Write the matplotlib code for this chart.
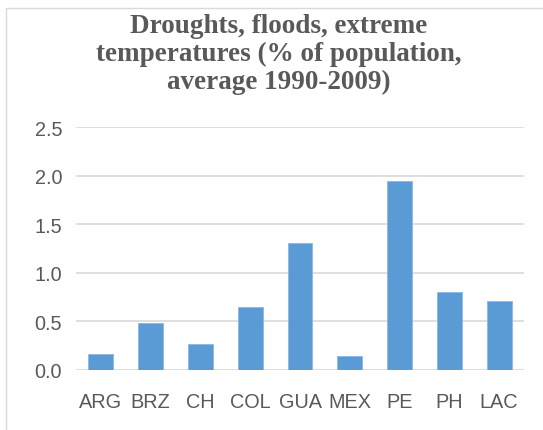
import matplotlib
matplotlib.use("Agg")
import matplotlib.pyplot as plt
from matplotlib.patches import Rectangle

# Data
countries = ["ARG", "BRZ", "CH", "COL", "GUA", "MEX", "PE", "PH", "LAC"]
values = [0.16, 0.48, 0.26, 0.65, 1.31, 0.14, 1.95, 0.80, 0.71]
yticks = [0.0, 0.5, 1.0, 1.5, 2.0, 2.5]
title = "Droughts, floods, extreme\ntemperatures (% of population,\naverage 1990-2009)"

bar_color = "#5B9BD5"
text_color = "#595959"
grid_color = "#D9D9D9"

W, H = 543, 431
fig = plt.figure(figsize=(W / 100, H / 100), dpi=100)

# light chart border (right/bottom edges fall outside the image)
fig.patches.append(
    Rectangle((6 / W, -0.1), 1.2, 1 - 9 / H + 0.1, transform=fig.transFigure,
              fill=False, edgecolor="#D9D9D9", linewidth=1)
)

ax = fig.add_axes([76 / W, 1 - 370.7 / H, 448 / W, (370.7 - 128.3) / H])
x = range(len(countries))
ax.bar(x, values, width=0.5, color=bar_color, edgecolor="#8CB8E2", linewidth=0.6, zorder=3)

ax.set_xlim(-0.5, len(countries) - 0.5)
ax.set_ylim(0, 2.5)
ax.set_yticks(yticks)
ax.set_yticklabels([f"{v:.1f}" for v in yticks])
ax.set_xticks(list(x))
ax.set_xticklabels(countries)

for v in yticks:
    ax.axhline(v, color=grid_color, linewidth=1.2, zorder=1)

for s in ax.spines.values():
    s.set_visible(False)
ax.tick_params(axis="both", length=0, labelsize=14.3, labelcolor=text_color)
ax.tick_params(axis="x", pad=16)
ax.tick_params(axis="y", pad=10)
for lab in ax.get_xticklabels() + ax.get_yticklabels():
    lab.set_family("Liberation Sans")

fig.text(279 / W, 1 - 14 / H, title, ha="center", va="top", multialignment="center",
         family="Liberation Serif", fontweight="bold", fontsize=19.5, color=text_color,
         linespacing=1.16)

fig.savefig("out.png", dpi=100)
